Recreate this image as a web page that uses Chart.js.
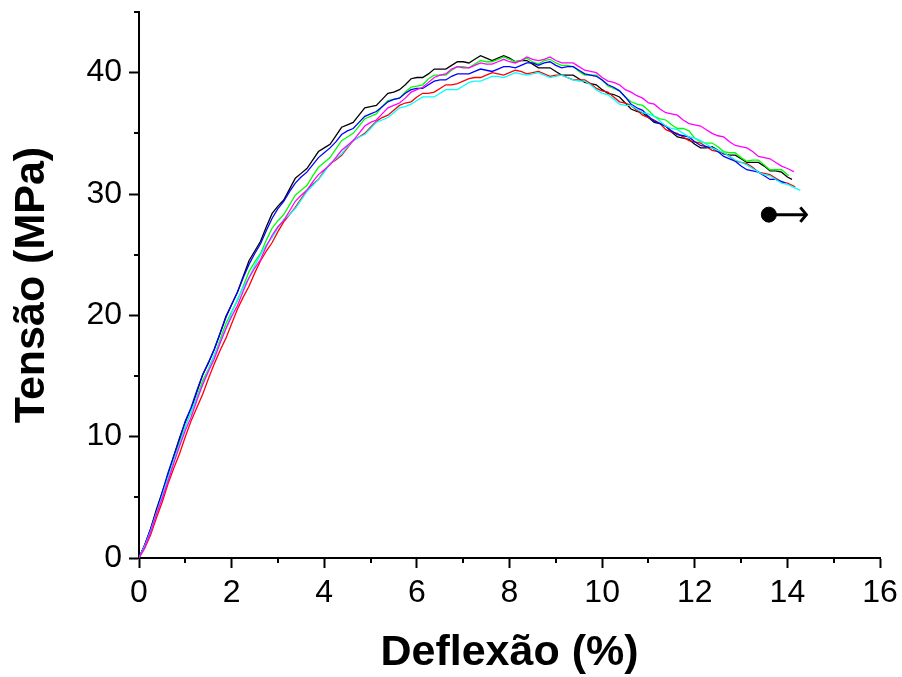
<!DOCTYPE html>
<html><head><meta charset="utf-8">
<script src="https://cdn.jsdelivr.net/npm/chart.js@4.4.0/dist/chart.umd.min.js"></script>
<style>html,body{margin:0;padding:0;background:#fff;}#wrap{width:902px;height:677px;}</style>
</head><body>
<div id="wrap"><canvas id="c" width="902" height="677"></canvas></div>
<script>
// ---- data ----
const xGrid = [0,0.25,0.5,0.75,1,1.25,1.5,1.75,2,2.25,2.5,2.75,3,3.25,3.5,3.75,4,4.25,4.5,4.75,5,5.25,5.5,5.75,6,6.25,6.5,6.75,7,7.25,7.5,7.75,8,8.25,8.5,8.75,9,9.25,9.5,9.75,10,10.25,10.5,10.75,11,11.25,11.5,11.75,12,12.25,12.5,12.75,13,13.25,13.5,13.75,14];
const midGrid = [0.125,0.375,0.625,0.875,1.125,1.375,1.625,1.875,2.125,2.375,2.625,2.875,3.125,3.375,3.625,3.875,4.125,4.375,4.625,4.875,5.125,5.375,5.625,5.875,6.125,6.375,6.625,6.875,7.125,7.375,7.625,7.875,8.125,8.375,8.625,8.875,9.125,9.375,9.625,9.875,10.125,10.375,10.625,10.875,11.125,11.375,11.625,11.875,12.125,12.375,12.625,12.875,13.125,13.375,13.625,13.875];

const blackY = [0,2.4,5.4,8.4,11.2,13.7,16.1,18.5,20.9,23.2,25.3,27.3,29.0,30.4,31.7,32.8,33.8,34.8,35.7,36.5,37.2,37.8,38.4,39.0,39.6,39.9,40.3,40.6,40.9,41.1,41.2,41.2,41.2,41.0,40.7,40.4,40.1,39.8,39.5,39.1,38.6,38.2,37.5,36.8,36.3,35.8,35.1,34.6,34.1,33.8,33.6,33.2,32.9,32.6,32.3,31.9,31.4];
const blackMid = [1.1,4.0,6.8,9.9,12.3,15.1,17.2,19.9,21.9,24.5,26.1,28.4,29.5,31.3,32.1,33.5,34.1,35.5,35.9,37.1,37.3,38.3,38.6,39.5,39.6,40.3,40.3,40.9,40.8,41.4,41.0,41.4,40.9,41.0,40.4,40.4,39.8,39.8,39.2,39.0,38.3,38.0,37.0,36.7,35.9,35.6,34.7,34.5,33.8,33.9,33.3,33.2,32.6,32.6,31.9,31.8];

const redY = [0,1.9,4.6,7.4,10.0,12.4,14.8,17.1,19.3,21.5,23.5,25.3,26.9,28.3,29.6,30.8,31.9,32.8,33.8,34.7,35.5,36.3,36.9,37.5,38.0,38.3,38.7,39.0,39.3,39.6,39.8,39.9,40.0,40.1,40.0,39.9,39.8,39.6,39.4,39.1,38.5,38.0,37.5,36.9,36.3,35.8,35.1,34.7,34.3,33.9,33.5,33.1,32.6,32.2,31.7,31.3,30.9];
const redMid = [0.8,3.3,6.1,8.6,11.3,13.5,16.0,18.1,20.5,22.4,24.5,26.0,27.7,28.9,30.3,31.2,32.5,33.2,34.4,35.0,36.0,36.5,37.3,37.6,38.3,38.4,39.0,39.1,39.5,39.6,40.0,39.8,40.2,39.9,40.1,39.7,39.8,39.4,39.4,38.7,38.4,37.6,37.3,36.5,36.1,35.3,35.0,34.4,34.2,33.6,33.4,32.7,32.5,31.8,31.6,31.0];

const greenY = [0,2.2,5.1,8.1,10.9,13.3,15.6,18.0,20.3,22.4,24.4,26.2,27.8,29.1,30.3,31.5,32.6,33.7,34.7,35.6,36.4,37.2,37.8,38.4,38.9,39.5,39.8,40.2,40.5,40.7,40.9,41.1,41.1,41.0,40.9,41.0,40.8,40.6,40.1,39.8,39.4,38.7,38.0,37.4,36.9,36.2,35.7,35.4,34.6,34.2,33.9,33.4,33.0,32.8,32.4,32.0,31.6];
const greenMid = [1.0,3.7,6.5,9.6,12.0,14.6,16.7,19.3,21.2,23.6,25.1,27.2,28.3,29.9,30.7,32.2,33.0,34.4,35.0,36.2,36.6,37.7,37.9,38.8,39.0,39.8,39.8,40.5,40.4,41.0,40.9,41.3,40.9,41.2,40.7,41.1,40.6,40.5,39.8,39.8,38.9,38.5,37.6,37.3,36.4,36.1,35.4,35.2,34.3,34.2,33.5,33.4,32.7,32.8,32.0,32.0];

const blueY = [0,2.4,5.4,8.4,11.3,13.8,16.1,18.5,20.9,23.1,25.1,27.0,28.8,30.2,31.4,32.4,33.4,34.3,35.2,35.9,36.6,37.2,37.8,38.3,38.7,39.0,39.4,39.7,39.9,40.1,40.2,40.3,40.5,40.6,40.8,40.8,40.6,40.5,40.2,39.8,39.4,38.8,38.0,37.1,36.4,35.8,35.2,34.8,34.3,33.9,33.5,32.9,32.3,31.9,31.5,31.2];
const blueMid = [1.1,3.8,7.0,9.8,12.4,15.1,17.2,19.8,21.9,24.2,25.9,28.0,29.4,30.9,31.8,33.0,33.8,34.9,35.4,36.4,36.8,37.6,37.9,38.6,38.7,39.3,39.4,39.9,39.9,40.3,40.1,40.5,40.4,40.8,40.6,40.9,40.4,40.5,39.9,39.7,39.0,38.5,37.4,36.9,36.0,35.6,34.9,34.7,34.0,33.8,33.1,32.7,32.0,31.8,31.2];

const cyanY = [0,2.2,5.1,8.0,10.8,13.2,15.5,17.8,20.2,22.3,24.1,25.8,27.2,28.3,29.5,30.7,31.8,32.9,33.9,34.7,35.4,36.1,36.7,37.2,37.7,38.0,38.3,38.6,38.9,39.3,39.5,39.7,39.8,39.9,39.9,39.8,39.7,39.6,39.3,39.0,38.3,37.8,37.3,37.0,36.6,36.0,35.4,35.0,34.6,34.1,33.6,33.1,32.6,32.1,31.6,31.2,30.8];
const cyanMid = [1.0,3.7,6.6,9.3,12.1,14.3,16.7,18.9,21.3,23.1,25.0,26.4,27.9,28.8,30.2,31.2,32.5,33.3,34.4,34.9,35.9,36.3,37.1,37.4,38.0,38.0,38.6,38.6,39.2,39.3,39.7,39.6,40.0,39.8,40.0,39.6,39.8,39.4,39.3,38.6,38.2,37.4,37.3,36.7,36.4,35.6,35.3,34.7,34.4,33.8,33.4,32.8,32.4,31.8,31.5,30.9];

const magentaY = [0,2.1,4.9,7.8,10.5,13.0,15.4,17.7,19.9,22.0,23.9,25.7,27.3,28.6,29.9,31.0,32.0,33.0,34.0,35.0,35.9,36.6,37.3,37.9,38.6,39.2,39.8,40.3,40.4,40.6,40.7,40.9,40.9,41.0,41.1,41.1,41.0,40.8,40.5,40.1,39.6,39.2,38.6,38.1,37.5,37.0,36.6,36.1,35.7,35.3,34.8,34.3,33.9,33.5,33.0,32.6,32.1];
const magentaMid = [0.9,3.6,6.3,9.2,11.6,14.3,16.4,18.9,20.8,23.1,24.6,26.6,27.8,29.4,30.3,31.6,32.4,33.6,34.4,35.6,36.1,37.1,37.5,38.4,38.8,39.6,39.9,40.5,40.4,40.8,40.7,41.1,40.8,41.3,41.0,41.3,40.8,40.8,40.2,40.0,39.3,39.0,38.4,37.9,37.4,36.7,36.5,35.8,35.6,35.0,34.7,34.0,33.8,33.1,32.9,32.3];

// last recorded point of each specimen: black, red, green, blue, cyan, magenta
const endX = [14.1, 14.17, 14.03, 13.96, 14.28, 14.14];
const endY = [31.2, 30.6, 31.5, 30.9, 30.3, 31.85];
// symbol (dot + arrow)
const dotX = [13.6], dotY = [28.3];
const shaftX = [13.6, 14.41], shaftY = [28.3, 28.3];
const headX = [14.28, 14.41, 14.28], headY = [28.9, 28.3, 27.7];
// axes
const xTicks = [0,2,4,6,8,10,12,14,16];
const yTicks = [0,10,20,30,40];
const xMinor = [1,3,5,7,9,11,13,15];
const yMinor = [5,15,25,35,45];
const xTitle = 'Deflexão (%)';
const yTitle = 'Tensão (MPa)';

// ---- build ----
function pts(main, mid, i){
  const p = [];
  main.forEach((y,k)=>{
    p.push({x:xGrid[k], y:y});
    if (k < mid.length && k < main.length - 1) p.push({x:midGrid[k], y:mid[k]});
  });
  if (endX[i] > p[p.length-1].x) p.push({x:endX[i], y:endY[i]});
  return p;
}
function zip(xs, ys){ return xs.map((x,k)=>({x:x, y:ys[k]})); }
const series = [
  {main: blackY, mid: blackMid, color:'#000000', order:6},
  {main: redY, mid: redMid, color:'#ff0000', order:5},
  {main: greenY, mid: greenMid, color:'#00ff00', order:4},
  {main: blueY, mid: blueMid, color:'#0000ff', order:3},
  {main: cyanY, mid: cyanMid, color:'#00ffff', order:2},
  {main: magentaY, mid: magentaMid, color:'#ff00ff', order:1}
];
const datasets = series.map((s,i)=>({
  data: pts(s.main, s.mid, i), borderColor: s.color, borderWidth: 1.3, pointRadius: 0,
  showLine: true, fill: false, tension: 0, order: s.order
}));
datasets.push({data: zip(shaftX, shaftY), borderColor:'#000', borderWidth:3, pointRadius:0, showLine:true, order:0});
datasets.push({data: zip(headX, headY), borderColor:'#000', borderWidth:3, pointRadius:0, showLine:true, borderJoinStyle:'miter', order:0});
datasets.push({data: zip(dotX, dotY), backgroundColor:'#000', borderColor:'#000', pointRadius:7.5, showLine:false, order:0});

const tickFont = {family:"'Liberation Sans', Arial, sans-serif", size:32};
const titleFont = {family:"'Liberation Sans', Arial, sans-serif", size:43, weight:'bold', lineHeight:1};

const minorTicks = {
  id:'minorTicks',
  afterDraw(chart){
    const ctx = chart.ctx, a = chart.chartArea, xs = chart.scales.x, ys = chart.scales.y;
    ctx.save(); ctx.strokeStyle = '#000'; ctx.lineWidth = 2; ctx.beginPath();
    xMinor.forEach(v=>{ const px = Math.round(xs.getPixelForValue(v)); ctx.moveTo(px, a.bottom); ctx.lineTo(px, a.bottom+5); });
    yMinor.forEach(v=>{ const py = Math.round(ys.getPixelForValue(v)); ctx.moveTo(a.left, py); ctx.lineTo(a.left-5, py); });
    ctx.stroke(); ctx.restore();
  }
};

new Chart(document.getElementById('c'), {
  type:'scatter',
  data:{datasets},
  options:{
    responsive:false, animation:false, devicePixelRatio:1,
    layout:{padding:{top:12, right:22, left:0, bottom:0}},
    plugins:{legend:{display:false}, tooltip:{enabled:false}},
    scales:{
      x:{type:'linear', min:0, max:16,
        afterBuildTicks: s=>{ s.ticks = xTicks.map(v=>({value:v})); },
        afterFit: s=>{ s.height = 119; s.paddingLeft = 0; s.paddingRight = 0; },
        ticks:{color:'#000', font:tickFont, padding:6, autoSkip:false, maxRotation:0, callback:v=>String(v)},
        grid:{drawOnChartArea:false, drawTicks:true, tickLength:10, tickWidth:2, tickColor:'#000', color:'#000'},
        border:{display:true, color:'#000', width:2},
        title:{display:true, text:xTitle, color:'#000', font:titleFont, padding:{top:0,bottom:2}}
      },
      y:{type:'linear', min:0, max:45,
        afterBuildTicks: s=>{ s.ticks = yTicks.map(v=>({value:v})); },
        afterFit: s=>{ s.width = 139; s.paddingTop = 0; s.paddingBottom = 0; },
        ticks:{color:'#000', font:tickFont, padding:7, autoSkip:false, callback:v=>String(v)},
        grid:{drawOnChartArea:false, drawTicks:true, tickLength:10, tickWidth:2, tickColor:'#000', color:'#000'},
        border:{display:true, color:'#000', width:2},
        title:{display:true, text:yTitle, color:'#000', font:titleFont, padding:{top:11,bottom:0}}
      }
    }
  },
  plugins:[minorTicks]
});
</script>
</body></html>
